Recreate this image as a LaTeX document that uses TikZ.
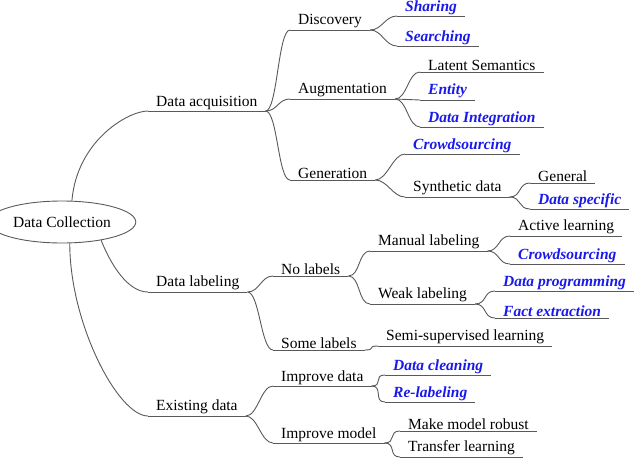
\documentclass[tikz,border=0pt]{standalone}
\usepackage{fontspec}
\setmainfont{Liberation Serif}
\usetikzlibrary{shapes.geometric}
\definecolor{hlblue}{RGB}{25,25,235}
\tikzstyle{lbl}=[anchor=south west,inner xsep=8pt,inner ysep=1.5pt,font=\fontsize{15.5}{17}\selectfont]
\tikzstyle{hl}=[lbl,text=hlblue,font=\fontsize{15.5}{17}\selectfont\bfseries\itshape]
\tikzstyle{branch}=[draw=black!65,line width=0.9pt]

\begin{document}
\begin{tikzpicture}[x=1pt,y=-1pt]
\useasboundingbox (0,0) rectangle (640,461);
% root
\node[ellipse,draw=black!65,line width=0.9pt,minimum width=121pt,minimum height=42pt,font=\fontsize{15.5}{17}\selectfont] (root) at (62,222) {Data Collection};
% 1st level
\node[lbl] (acq) at (148,111) {Data acquisition};
\node[lbl] (lab) at (148,292) {Data labeling};
\node[lbl] (ex)  at (148,416) {Existing data};
% acquisition
\node[lbl] (disc) at (290,30)  {Discovery};
\node[hl]  (shar) at (397,16)  {Sharing};
\node[hl]  (srch) at (397,46)  {Searching};
\node[lbl] (aug)  at (290,99)  {Augmentation};
\node[lbl] (lat)  at (420,72)  {Latent Semantics};
\node[hl]  (ent)  at (420,100) {Entity};
\node[hl]  (dint) at (420,127) {Data Integration};
\node[lbl] (gen)  at (290,180) {Generation};
\node[hl]  (crw1) at (405,154) {Crowdsourcing};
\node[lbl] (syn)  at (405,197) {Synthetic data};
\node[lbl] (genr) at (530,183) {General};
\node[hl]  (dspc) at (530,209) {Data specific};
% labeling
\node[lbl] (nol)  at (273,276) {No labels};
\node[lbl] (man)  at (370,251) {Manual labeling};
\node[lbl] (act)  at (510,236) {Active learning};
\node[hl]  (crw2) at (510,264) {Crowdsourcing};
\node[lbl] (weak) at (370,304) {Weak labeling};
\node[hl]  (dprg) at (495,291) {Data programming};
\node[hl]  (fact) at (495,318) {Fact extraction};
\node[lbl] (some) at (273,350) {Some labels};
\node[lbl] (semi) at (378,346) {Semi-supervised learning};
% existing
\node[lbl] (impd) at (273,386) {Improve data};
\node[hl]  (clean) at (385,375) {Data cleaning};
\node[hl]  (relab) at (385,402) {Re-labeling};
\node[lbl] (impm) at (273,443) {Improve model};
\node[lbl] (rob)  at (400,431) {Make model robust};
\node[lbl] (trans) at (400,457) {Transfer learning};
% underlines
\foreach \n in {acq,lab,ex,disc,shar,srch,aug,lat,ent,dint,gen,crw1,syn,genr,dspc,
  nol,man,act,crw2,weak,dprg,fact,some,semi,impd,clean,relab,impm,rob,trans}
  \draw[branch] (\n.south west) -- (\n.south east);
% branches
\draw[branch] (root.65) .. controls +(5,-60) and +(-20,0) .. (acq.south west);
\draw[branch] (root.-25) .. controls +(10,25) and +(-20,0) .. (lab.south west);
\draw[branch] (root.-70) .. controls +(0,80) and +(-30,0) .. (ex.south west);
\foreach \p/\c in {acq/disc,acq/aug,acq/gen,disc/shar,disc/srch,aug/lat,aug/ent,aug/dint,
  gen/crw1,gen/syn,syn/genr,syn/dspc,lab/nol,lab/some,nol/man,nol/weak,man/act,man/crw2,
  weak/dprg,weak/fact,some/semi,ex/impd,ex/impm,impd/clean,impd/relab,impm/rob,impm/trans}
  \draw[branch] (\p.south east) .. controls +(12,0) and +(-12,0) .. (\c.south west);
\end{tikzpicture}
\end{document}
